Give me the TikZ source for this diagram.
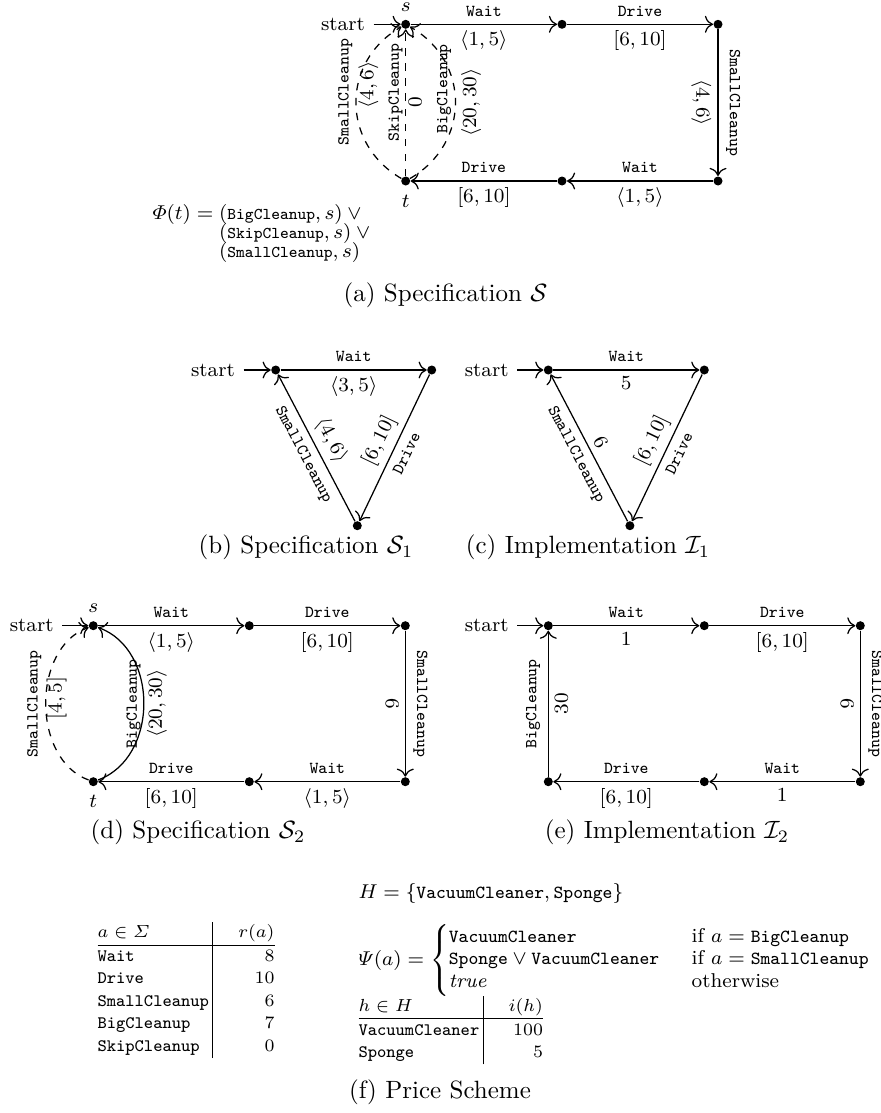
\documentclass[tikz,border=0pt]{standalone}
\usepackage{amsmath,amssymb}
\usepackage{tikz}
\usetikzlibrary{arrows.meta,positioning}

\newcommand{\actsz}{6.6}
\newcommand{\act}[1]{\text{\fontsize{\actsz}{8}\ttfamily\selectfont #1}}

\tikzset{
  state/.style={circle,fill,inner sep=0pt,minimum size=3.6pt},
  trans/.style={-{To[scale=1.2]},line width=0.5pt},
  act/.style={font=\fontsize{6.7}{8}\selectfont\ttfamily,inner sep=3pt},
  cost/.style={font=\fontsize{8}{9.5}\selectfont,inner sep=2.4pt},
  lbl/.style={font=\fontsize{8}{9.5}\selectfont},
  subcap/.style={font=\fontsize{10}{12}\selectfont},
}

\begin{document}
\begin{tikzpicture}[x=0.4pt,y=0.4pt]
\useasboundingbox (0,0) rectangle (880,-1113);

% (a) specification S
\node[state] (as) at (405.7,-24.3) {};
\node[state] (a1) at (562,-24.3) {};
\node[state] (a2) at (718,-24.3) {};
\node[state] (a3) at (718,-181) {};
\node[state] (a4) at (562,-181) {};
\node[state] (at) at (405.7,-181) {};
\node[lbl] (astart) at (343,-24.3) {start};
\node[lbl,inner sep=1pt,above=2pt of as] (aslab) {$s$};
\node[lbl,below=0pt of at] (atlab) {$t$};
\draw[trans] (astart) -- (as);
\draw[trans] (as) -- node[act,above]{Wait} node[cost,below]{$\langle 1,5\rangle$} (a1);
\draw[trans] (a1) -- node[act,above]{Drive} node[cost,below]{$[6,10]$} (a2);
\draw[trans] (a2) -- node[act,rotate=-90,above]{SmallCleanup} node[cost,rotate=-90,below]{$\langle 4,6\rangle$} (a3);
\draw[trans] (a3) -- node[act,above]{Wait} node[cost,below]{$\langle 1,5\rangle$} (a4);
\draw[trans] (a4) -- node[act,above]{Drive} node[cost,below]{$[6,10]$} (at);
\draw[trans,dashed] (at) to[bend left=60,looseness=1.18]
  node[act,rotate=90,above,inner sep=1.5pt,pos=0.56]{SmallCleanup}
  node[cost,rotate=90,below,inner sep=0pt,pos=0.6]{$\langle 4,6\rangle$} (as);
\draw[trans,dashed] (at) --
  node[act,rotate=90,above,inner sep=1pt,pos=0.57]{SkipCleanup}
  node[cost,rotate=90,below,inner sep=1pt]{$0$} (as);
\draw[trans,dashed] (at) to[bend right=60,looseness=1.18]
  node[act,rotate=90,above,inner sep=1pt,pos=0.58]{BigCleanup}
  node[cost,rotate=90,below,inner sep=2pt]{$\langle 20,30\rangle$} (as);
\node[anchor=west,inner sep=0pt,font=\fontsize{8}{7.6}\selectfont] (phi) at (152,-233.5)
  {\setlength\jot{0pt}\setlength\lineskiplimit{-20pt}%
   $\begin{aligned}\varPhi(t) ={}& (\act{BigCleanup}, s) \vee{}\\
     & (\act{SkipCleanup}, s) \vee{}\\
     & (\act{SmallCleanup}, s)\end{aligned}$};
\node[subcap] (capa) at (445.5,-295) {(a) Specification $\mathcal{S}$};

% (b) specification S1
\node[state] (b0) at (275.7,-370) {};
\node[state] (b1) at (431.7,-370) {};
\node[state] (b2) at (357.3,-525.7) {};
\node[lbl] (bstart) at (213,-370) {start};
\draw[trans] (bstart) -- (b0);
\draw[trans] (b0) -- node[act,above]{Wait} node[cost,below]{$\langle 3,5\rangle$} (b1);
\draw[trans] (b1) -- node[act,sloped,below]{Drive} node[cost,sloped,above]{$[6,10]$} (b2);
\draw[trans] (b2) -- node[act,sloped,below]{SmallCleanup} node[cost,sloped,above]{$\langle 4,6\rangle$} (b0);
\node[subcap] (capb) at (306,-547) {(b) Specification $\mathcal{S}_1$};

% (c) implementation I1
\node[state] (c0) at (548.3,-370) {};
\node[state] (c1) at (704.3,-370) {};
\node[state] (c2) at (629.9,-525.7) {};
\node[lbl] (cstart) at (486.7,-370) {start};
\draw[trans] (cstart) -- (c0);
\draw[trans] (c0) -- node[act,above]{Wait} node[cost,below]{$5$} (c1);
\draw[trans] (c1) -- node[act,sloped,below]{Drive} node[cost,sloped,above]{$[6,10]$} (c2);
\draw[trans] (c2) -- node[act,sloped,below]{SmallCleanup} node[cost,sloped,above]{$6$} (c0);
\node[subcap] (capc) at (588,-547) {(c) Implementation $\mathcal{I}_1$};

% (d) specification S2
\node[state] (ds) at (93.3,-625.7) {};
\node[state] (d1) at (249.3,-625.7) {};
\node[state] (d2) at (405.3,-625.7) {};
\node[state] (d3) at (405.3,-781.7) {};
\node[state] (d4) at (249.3,-781.7) {};
\node[state] (dt) at (93.3,-781.7) {};
\node[lbl] (dstart) at (31.7,-625.7) {start};
\node[lbl,inner sep=1pt,above=2pt of ds] (dslab) {$s$};
\node[lbl,below=0pt of dt] (dtlab) {$t$};
\draw[trans] (dstart) -- (ds);
\draw[trans] (ds) -- node[act,above]{Wait} node[cost,below]{$\langle 1,5\rangle$} (d1);
\draw[trans] (d1) -- node[act,above]{Drive} node[cost,below]{$[6,10]$} (d2);
\draw[trans] (d2) -- node[act,rotate=-90,above]{SmallCleanup} node[cost,rotate=-90,below]{$6$} (d3);
\draw[trans] (d3) -- node[act,above]{Wait} node[cost,below]{$\langle 1,5\rangle$} (d4);
\draw[trans] (d4) -- node[act,above]{Drive} node[cost,below]{$[6,10]$} (dt);
\draw[trans,dashed] (dt) to[bend left=70,looseness=1.02]
  node[act,rotate=90,above,inner sep=1.5pt]{SmallCleanup}
  node[cost,rotate=90,below,inner sep=0pt,pos=0.53]{$[4,5]$} (ds);
\draw[trans] (dt) to[bend right=70,looseness=1.09]
  node[act,rotate=90,above,inner sep=1pt]{BigCleanup}
  node[cost,rotate=90,below,inner sep=1pt]{$\langle 20,30\rangle$} (ds);
\node[subcap] (capd) at (198,-832) {(d) Specification $\mathcal{S}_2$};

% (e) implementation I2
\node[state] (es) at (548.3,-625.7) {};
\node[state] (e1) at (704.3,-625.7) {};
\node[state] (e2) at (860.3,-625.7) {};
\node[state] (e3) at (860.3,-781.7) {};
\node[state] (e4) at (704.3,-781.7) {};
\node[state] (e5) at (548.3,-781.7) {};
\node[lbl] (estart) at (486.7,-625.7) {start};
\draw[trans] (estart) -- (es);
\draw[trans] (es) -- node[act,above]{Wait} node[cost,below]{$1$} (e1);
\draw[trans] (e1) -- node[act,above]{Drive} node[cost,below]{$[6,10]$} (e2);
\draw[trans] (e2) -- node[act,rotate=-90,above]{SmallCleanup} node[cost,rotate=-90,below]{$6$} (e3);
\draw[trans] (e3) -- node[act,above]{Wait} node[cost,below]{$1$} (e4);
\draw[trans] (e4) -- node[act,above]{Drive} node[cost,below]{$[6,10]$} (e5);
\draw[trans] (e5) -- node[act,rotate=90,above]{BigCleanup} node[cost,rotate=90,below]{$30$} (es);
\node[subcap] (cape) at (667,-832) {(e) Implementation $\mathcal{I}_2$};

% (f) price scheme
\node[anchor=west,inner sep=0pt,font=\fontsize{7}{9}\selectfont] (rtab) at (97,-990)
  {\renewcommand\actsz{7}%
   \begin{tabular}{@{}l@{\hspace{1.5pt}}|@{\hspace{10pt}}r@{}}
   $a \in \varSigma$ & $r(a)$\\ \hline
   \act{Wait} & 8\\
   \act{Drive} & 10\\
   \act{SmallCleanup} & 6\\
   \act{BigCleanup} & 7\\
   \act{SkipCleanup} & 0
   \end{tabular}};
\node[anchor=west,inner sep=0pt,font=\fontsize{8}{9.5}\selectfont] (hset) at (358,-893)
  {\renewcommand\actsz{7.4}$H = \{\act{VacuumCleaner}, \act{Sponge}\}$};
\node[anchor=west,inner sep=0pt,font=\fontsize{8}{7.5}\selectfont] (psi) at (358,-960)
  {\renewcommand\actsz{7.4}%
   $\varPsi(a) = \begin{cases}
     \act{VacuumCleaner} & \hspace{5pt}\text{if } a = \act{BigCleanup}\\
     \act{Sponge} \vee \act{VacuumCleaner} & \hspace{5pt}\text{if } a = \act{SmallCleanup}\\
     \mathit{true} & \hspace{5pt}\text{otherwise}
   \end{cases}$};
\node[anchor=west,inner sep=0pt,font=\fontsize{7}{9}\selectfont] (itab) at (358,-1030)
  {\renewcommand\actsz{7}%
   \begin{tabular}{@{}l@{\hspace{1.5pt}}|@{\hspace{10pt}}r@{}}
   $h \in H$ & $i(h)$\\ \hline
   \act{VacuumCleaner} & 100\\
   \act{Sponge} & 5
   \end{tabular}};
\node[subcap] (capf) at (440,-1092) {(f) Price Scheme};
\end{tikzpicture}
\end{document}
